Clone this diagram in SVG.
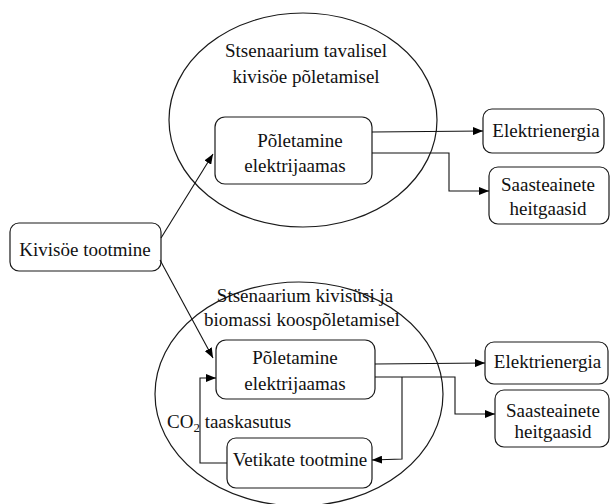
<svg xmlns="http://www.w3.org/2000/svg" width="611" height="504" viewBox="0 0 611 504">
<defs>
<marker id="ah" viewBox="0 0 10 8" refX="10" refY="4" markerWidth="10" markerHeight="8" markerUnits="userSpaceOnUse" orient="auto">
<path d="M0,0 L10,4 L0,8 Z" fill="#000"/>
</marker>
</defs>
<style>
.n{fill:#fff;stroke:#1a1a1a;stroke-width:1.2}
.e{fill:none;stroke:#1a1a1a;stroke-width:1.2}
.t{font-family:"Liberation Serif","Times New Roman",serif;font-size:19px;fill:#111;text-anchor:middle}
.c{fill:none;stroke:#111;stroke-width:1.1}
.a{marker-end:url(#ah)}
</style>
<rect width="611" height="504" fill="#fff"/>
<g id="scenario1">
<ellipse class="e" cx="303" cy="120" rx="134" ry="107"/>
<text class="t" x="306" y="57">Stsenaarium tavalisel</text>
<text class="t" x="306" y="83">kivisöe põletamisel</text>
</g>
<g id="scenario2">
<ellipse class="e" cx="299" cy="394" rx="144" ry="112"/>
<text class="t" x="305" y="302">Stsenaarium kivisüsi ja</text>
<text class="t" x="302" y="326">biomassi koospõletamisel</text>
</g>
<g id="kivisoe">
<rect class="n" x="10" y="223" width="151" height="48" rx="9"/>
<text class="t" x="85" y="256">Kivisöe tootmine</text>
</g>
<g id="poletamine1">
<rect class="n" x="215" y="117" width="157" height="67" rx="10"/>
<text class="t" x="300" y="147">Põletamine</text>
<text class="t" x="295" y="172">elektrijaamas</text>
</g>
<g id="elekter1">
<rect class="n" x="483" y="109" width="121" height="44" rx="9"/>
<text class="t" x="546" y="137">Elektrienergia</text>
</g>
<g id="saaste1">
<rect class="n" x="489" y="167" width="120" height="57" rx="9"/>
<text class="t" x="548" y="191">Saasteainete</text>
<text class="t" x="548" y="215">heitgaasid</text>
</g>
<g id="poletamine2">
<rect class="n" x="216" y="340" width="159" height="59" rx="10"/>
<text class="t" x="295" y="364">Põletamine</text>
<text class="t" x="295" y="390">elektrijaamas</text>
</g>
<g id="vetikad">
<rect class="n" x="227" y="438" width="145" height="50" rx="9"/>
<text class="t" x="300" y="466">Vetikate tootmine</text>
</g>
<g id="elekter2">
<rect class="n" x="485" y="342" width="123" height="42" rx="9"/>
<text class="t" x="547.5" y="368">Elektrienergia</text>
</g>
<g id="saaste2">
<rect class="n" x="495" y="390" width="114" height="57" rx="9"/>
<text class="t" x="553" y="417">Saasteainete</text>
<text class="t" x="553" y="438">heitgaasid</text>
</g>
<g id="co2label">
<text class="t" x="167" y="428" style="text-anchor:start">CO<tspan font-size="13" dy="4">2</tspan><tspan dy="-4"> taaskasutus</tspan></text>
</g>
<g id="connectors">
<path class="c a" d="M161,238 L213,154"/>
<path class="c a" d="M160,260 L213,358"/>
<path class="c a" d="M372,132 L483,131"/>
<path class="c a" d="M372,153 L449,153 L449,191 L489,191"/>
<path class="c a" d="M375,364 L485,363"/>
<path class="c a" d="M375,377 L455,377 L455,414 L495,414"/>
<path class="c a" d="M402,377 L402,459 L372,460"/>
<path class="c a" d="M227,463 L200,463 L200,378 L216,378"/>
</g>
</svg>
